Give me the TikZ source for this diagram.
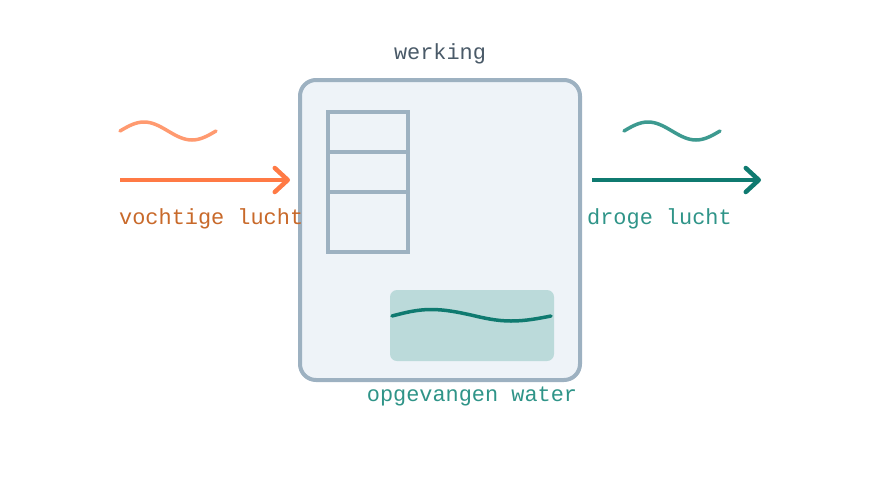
\documentclass[tikz,border=0pt]{standalone}
\usepackage{fontspec}
\setmonofont{Liberation Mono}
\usetikzlibrary{arrows.meta}
\definecolor{boxline}{HTML}{9DB1C1}
\definecolor{boxfill}{HTML}{EEF3F8}
\definecolor{waterfill}{HTML}{BBDADA}
\definecolor{tealdark}{HTML}{0F7A70}
\definecolor{teallight}{HTML}{3D9A90}
\definecolor{tealtext}{HTML}{2F9488}
\definecolor{orangedark}{HTML}{FF7A45}
\definecolor{orangelight}{HTML}{FF9A70}
\definecolor{orangetext}{HTML}{C8692A}
\definecolor{greytext}{HTML}{4A5A68}
\tikzset{
  lbl/.style={font=\ttfamily\fontsize{21.9}{24}\selectfont, inner sep=0pt},
  flowarrow/.style={line width=4.5pt, -{Straight Barb[length=13pt,width=24pt,line cap=round,round]}},
  wavy/.style={line width=3.5pt, line cap=round},
}
\begin{document}
\begin{tikzpicture}[x=1pt,y=-1pt]
\useasboundingbox (0,0) rectangle (880,480);
% main box
\draw[boxline, fill=boxfill, line width=4pt, rounded corners=16pt] (300,80) rectangle (580,380);
% filter stack
\draw[boxline, line width=3.2pt] (328,112) rectangle (408,252);
\draw[boxline, line width=3.2pt] (328,152) -- (408,152);
\draw[boxline, line width=3.2pt] (328,192) -- (408,192);
% water tray
\fill[waterfill, rounded corners=7pt] (390,290) rectangle (554,361);
\draw[tealdark, wavy] (392,316) sin (431,309.5) cos (471,315) sin (511,321) cos (551,316);
% texts
\node[lbl, text=greytext] (werk) at (440,54) {werking};
\node[lbl, text=tealtext] (water) at (472,396) {opgevangen water};
\node[lbl, text=orangetext, anchor=west] (vocht) at (119,219) {vochtige lucht};
\node[lbl, text=tealtext, anchor=west] (droog) at (587,219) {droge lucht};
% left wave and arrow
\draw[orangelight, wavy] (120,131) sin (144,122) cos (168,131) sin (192,140) cos (216,131);
\coordinate (inS) at (120,180);
\coordinate (inE) at (290,180);
\draw[orangedark, flowarrow] (inS) -- (inE);
% right wave and arrow
\draw[teallight, wavy] (624,131) sin (648,122) cos (672,131) sin (696,140) cos (720,131);
\coordinate (outS) at (592,180);
\coordinate (outE) at (761,180);
\draw[tealdark, flowarrow] (outS) -- (outE);
\end{tikzpicture}
\end{document}
